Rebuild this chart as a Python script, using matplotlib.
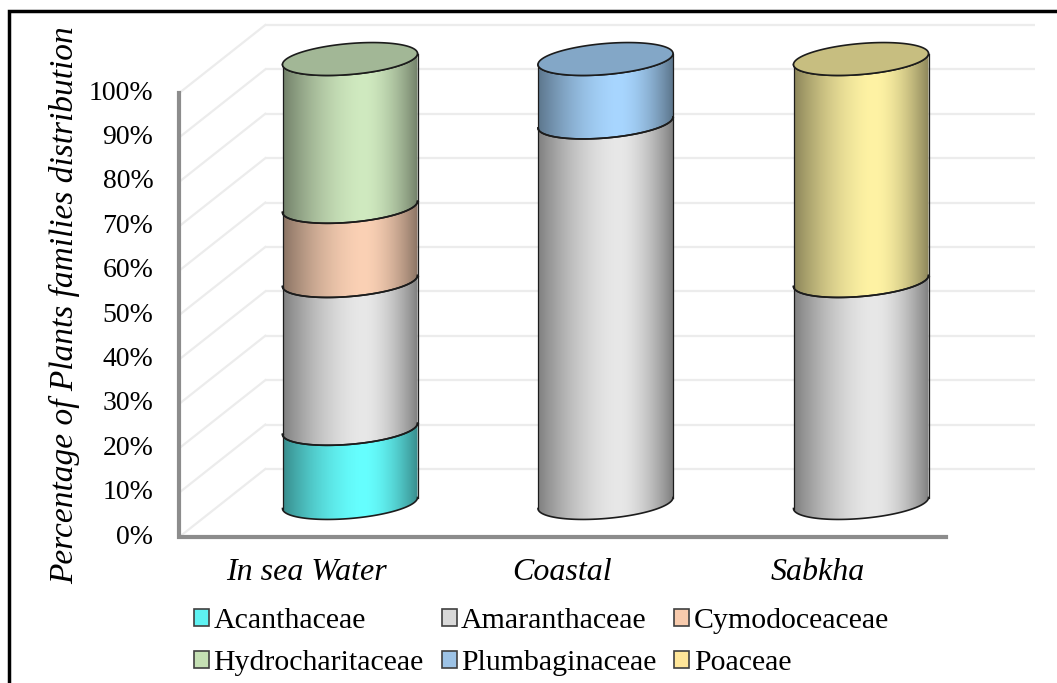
"""Stacked 3D-style cylinder chart of plant family shares per habitat."""

import matplotlib.pyplot as plt
import numpy as np
from matplotlib.colors import to_rgb
from matplotlib.patches import Patch, Polygon, Rectangle

plt.rcParams["font.family"] = ["Liberation Serif", "DejaVu Serif"]

# ---- data (percent of plant families per site) ----
sites = ["In sea Water", "Coastal", "Sabkha"]
families = ["Acanthaceae", "Amaranthaceae", "Cymodoceaceae",
            "Hydrocharitaceae", "Plumbaginaceae", "Poaceae"]
acanthaceae = [16.7, 0.0, 0.0]
amaranthaceae = [33.3, 85.7, 50.0]
cymodoceaceae = [16.7, 0.0, 0.0]
hydrocharitaceae = [33.3, 0.0, 0.0]
plumbaginaceae = [0.0, 14.3, 0.0]
poaceae = [0.0, 0.0, 50.0]
y_ticks = [0, 10, 20, 30, 40, 50, 60, 70, 80, 90, 100]
y_label = "Percentage of Plants families distribution"

series = [acanthaceae, amaranthaceae, cymodoceaceae,
          hydrocharitaceae, plumbaginaceae, poaceae]
body_colors = ["#66ffff", "#e8e8e8", "#fbd1b5", "#d0eac0", "#a8d6ff", "#fff3a4"]
legend_colors = ["#5ef2f2", "#d9d9d9", "#f8cbad", "#c5e0b4", "#9dc3e6", "#ffe699"]

# ---- layout: pixel scale of the pseudo-3D projection ----
W, H = 1057, 683
PX_X, X0 = 255.5, 350.0      # px per category step, px of first category centre
PX_Y, Y0 = 4.44, 180.0       # px per percent, px (from bottom) of 0% mid-plane
DX, DY = 43 / PX_X, 34 / PX_Y    # half depth of the plot box
A, B, TILT = 67.5 / PX_X, 15.5 / PX_Y, 5.5 / PX_Y
EDGE = "#1c1c1c"


def ellipse(cx, cy, t):
    return cx + A * np.cos(t), cy + B * np.sin(t) + TILT * np.cos(t)


def shade(u):
    peak = 0.6
    d = np.where(u < peak, (peak - u) / peak, (u - peak) / (1 - peak))
    return 1 - 0.45 * d ** 1.7


fig = plt.figure(figsize=(W / 100, H / 100), dpi=100)
ax = fig.add_axes([0, 0, 1, 1])
ax.axis("off")
xlim = (-X0 / PX_X, (W - X0) / PX_X)
ylim = (-Y0 / PX_Y, (H - Y0) / PX_Y)

x_left, x_right = -0.5, len(sites) - 0.5

# back wall gridlines and side wall diagonals
for v in y_ticks:
    ax.plot([x_left + DX, x_right + DX + 3 / PX_X], [v + DY, v + DY],
            color="#ececec", lw=1.6, zorder=1, solid_capstyle="butt")
    ax.plot([x_left - DX, x_left + DX], [v - DY, v + DY],
            color="#ececec", lw=1.6, zorder=1)

# front axis lines
ax.plot([x_left - DX, x_left - DX, x_right - DX], [100 - DY, -DY, -DY],
        color="#8c8c8c", lw=3, zorder=2, solid_joinstyle="miter")

# tick labels
for v in y_ticks:
    ax.text(x_left - DX - 26 / PX_X, v - DY, f"{v}%", ha="right", va="center",
            fontsize=20, zorder=5)

# cylinders
t_front = np.linspace(np.pi, 2 * np.pi, 80)
t_full = np.linspace(0, 2 * np.pi, 160)
u = np.linspace(0, 1, 256)
sh = shade(u)
for i, site in enumerate(sites):
    cx = i
    base = 0.0
    top_color = None
    for fam, vals, col in zip(families, series, body_colors):
        h = vals[i]
        if h <= 0:
            continue
        v0, v1 = base, base + h
        xb, yb = ellipse(cx, v0, t_front)
        xt, yt = ellipse(cx, v1, t_front[::-1])
        poly = Polygon(np.column_stack([np.r_[xb, xt], np.r_[yb, yt]]),
                       closed=True, facecolor="none", edgecolor="none", zorder=3)
        ax.add_patch(poly)
        rgb = np.array(to_rgb(col))
        img = (sh[:, None] * rgb[None, :])[None, :, :].repeat(2, axis=0)
        im = ax.imshow(img, extent=[cx - A, cx + A, v0 - 2 * B, v1 + 2 * B],
                       aspect="auto", interpolation="bilinear", zorder=3)
        im.set_clip_path(poly)
        # outlines
        ax.plot(xb, yb, color=EDGE, lw=1.2, zorder=4)
        ax.plot(xt, yt, color=EDGE, lw=1.2, zorder=4)
        ax.plot([xb[0], xt[-1]], [yb[0], yt[-1]], color=EDGE, lw=0.9, zorder=4)
        ax.plot([xb[-1], xt[0]], [yb[-1], yt[0]], color=EDGE, lw=0.9, zorder=4)
        base = v1
        top_color = rgb
    # top face
    xe, ye = ellipse(cx, base, t_full)
    ax.add_patch(Polygon(np.column_stack([xe, ye]), closed=True,
                         facecolor=top_color * 0.78, edgecolor=EDGE, lw=1.2,
                         zorder=4))
    ax.text(cx - DX, -DY - 35 / PX_Y, site, ha="center", va="center",
            fontsize=23, style="italic", zorder=5)

# axis title
ax.text((65 - X0) / PX_X, (H - 305 - Y0) / PX_Y, y_label, rotation=90,
        ha="center", va="center", fontsize=24, style="italic")

ax.set_xlim(*xlim)
ax.set_ylim(*ylim)

# legend, row-wise order
order = [0, 3, 1, 4, 2, 5]
handles = [Patch(facecolor=legend_colors[k], edgecolor="#404040", lw=1.2)
           for k in order]
labels = [families[k] for k in order]
fig.legend(handles, labels, loc="upper left",
           bbox_to_anchor=(194 / W, 1 - 608 / H), ncol=3, frameon=False,
           fontsize=21.5, handlelength=0.5, handleheight=0.5,
           handletextpad=0.15, columnspacing=0.6, labelspacing=0.55,
           borderpad=0, borderaxespad=0)

# black frame of the source figure (right/bottom are cropped off)
fig.patches.append(Rectangle((9 / W, -0.2), 1.2, 1.2 - 11 / H,
                             transform=fig.transFigure, fill=False,
                             edgecolor="black", lw=2.5))

fig.savefig("out.png", dpi=100)
